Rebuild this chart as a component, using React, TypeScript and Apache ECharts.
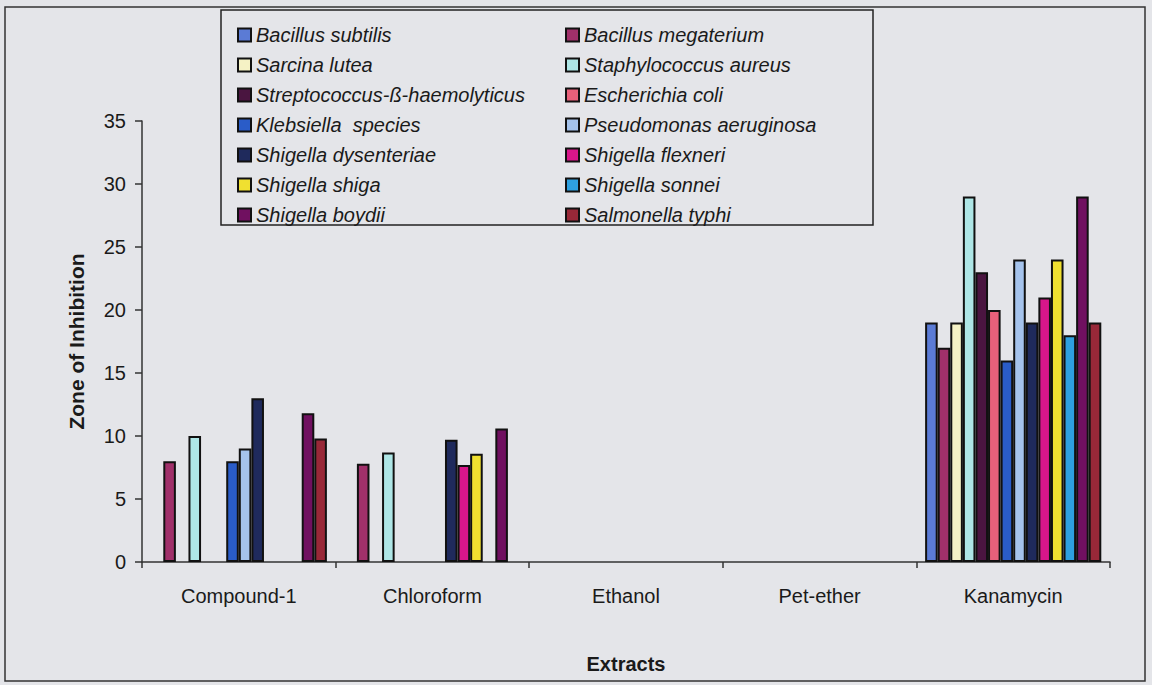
import React, { useEffect, useRef } from "react";
import * as echarts from "echarts";

const categories = ["Compound-1", "Chloroform", "Ethanol", "Pet-ether", "Kanamycin"];

const seriesNames = [
  "Bacillus subtilis",
  "Bacillus megaterium",
  "Sarcina lutea",
  "Staphylococcus aureus",
  "Streptococcus-ß-haemolyticus",
  "Escherichia coli",
  "Klebsiella  species",
  "Pseudomonas aeruginosa",
  "Shigella dysenteriae",
  "Shigella flexneri",
  "Shigella shiga",
  "Shigella sonnei",
  "Shigella boydii",
  "Salmonella typhi",
];

const bacillusSubtilis = [null, null, null, null, 19];
const bacillusMegaterium = [8, 7.8, null, null, 17];
const sarcinaLutea = [null, null, null, null, 19];
const staphylococcusAureus = [10, 8.7, null, null, 29];
const streptococcus = [null, null, null, null, 23];
const escherichiaColi = [null, null, null, null, 20];
const klebsiella = [8, null, null, null, 16];
const pseudomonas = [9, null, null, null, 24];
const shigellaDysenteriae = [13, 9.7, null, null, 19];
const shigellaFlexneri = [null, 7.7, null, null, 21];
const shigellaShiga = [null, 8.6, null, null, 24];
const shigellaSonnei = [null, null, null, null, 18];
const shigellaBoydii = [11.8, 10.6, null, null, 29];
const salmonellaTyphi = [9.8, null, null, null, 19];

const seriesValues = [
  bacillusSubtilis,
  bacillusMegaterium,
  sarcinaLutea,
  staphylococcusAureus,
  streptococcus,
  escherichiaColi,
  klebsiella,
  pseudomonas,
  shigellaDysenteriae,
  shigellaFlexneri,
  shigellaShiga,
  shigellaSonnei,
  shigellaBoydii,
  salmonellaTyphi,
];

const colors = [
  "#5b7bd5",
  "#a0306a",
  "#f5f2c5",
  "#aee6e6",
  "#4a1540",
  "#e8607a",
  "#2a5cc8",
  "#a5c3ec",
  "#1f2a5c",
  "#d8168a",
  "#f0e030",
  "#2ea0e0",
  "#701060",
  "#982838",
];

const yTicks = { min: 0, max: 35, interval: 5 };

const FONT = "'Liberation Sans', Arial, sans-serif";

export default function App() {
  const ref = useRef<HTMLDivElement>(null);

  useEffect(() => {
    if (!ref.current) return;
    const chart = echarts.init(ref.current, null, { renderer: "svg" });
    const legendText = {
      fontFamily: FONT,
      fontSize: 20,
      fontStyle: "italic",
      color: "#1a1a1a",
      lineHeight: 20,
    };
    const legendCommon = {
      orient: "vertical",
      top: 20,
      itemWidth: 13,
      itemHeight: 13,
      itemGap: 10,
      icon: "rect",
      textStyle: legendText,
    };
    chart.setOption({
      animation: false,
      backgroundColor: "#e4e5e9",
      textStyle: { fontFamily: FONT },
      grid: { left: 142, right: 42, top: 121, bottom: 123, containLabel: false },
      legend: [
        { ...legendCommon, left: 232, data: seriesNames.filter((_, i) => i % 2 === 0) },
        { ...legendCommon, left: 560, data: seriesNames.filter((_, i) => i % 2 === 1) },
      ],
      xAxis: {
        type: "category",
        data: categories,
        name: "Extracts",
        nameLocation: "middle",
        nameGap: 92,
        nameTextStyle: { fontFamily: FONT, fontSize: 20, fontWeight: "bold", color: "#1a1a1a" },
        axisLine: { lineStyle: { color: "#333", width: 1.5 } },
        axisTick: { show: true, length: 6, lineStyle: { color: "#333", width: 1.5 } },
        axisLabel: { fontFamily: FONT, fontSize: 20, color: "#1a1a1a", margin: 24 },
        splitLine: { show: false },
      },
      yAxis: {
        type: "value",
        min: yTicks.min,
        max: yTicks.max,
        interval: yTicks.interval,
        name: "Zone of Inhibition",
        nameLocation: "middle",
        nameGap: 55,
        nameTextStyle: { fontFamily: FONT, fontSize: 21, fontWeight: "bold", color: "#1a1a1a" },
        axisLine: { show: true, lineStyle: { color: "#333", width: 1.5 } },
        axisTick: { show: true, length: 7, lineStyle: { color: "#333", width: 1.5 } },
        axisLabel: { fontFamily: FONT, fontSize: 20, color: "#1a1a1a", margin: 16 },
        splitLine: { show: false },
      },
      series: seriesNames.map((name, i) => ({
        name,
        type: "bar",
        data: seriesValues[i],
        barGap: "0%",
        barCategoryGap: "9%",
        itemStyle: { color: colors[i], borderColor: "#111", borderWidth: 2 },
      })),
      graphic: [
        {
          type: "rect",
          shape: { x: 5, y: 7, width: 1140, height: 674 },
          style: { fill: "none", stroke: "#333", lineWidth: 1.5 },
          silent: true,
          z: -1,
        },
        {
          type: "rect",
          shape: { x: 221, y: 10, width: 652, height: 215 },
          style: { fill: "none", stroke: "#222", lineWidth: 1.5 },
          silent: true,
        },
      ],
    });
    return () => chart.dispose();
  }, []);

  return (
    <div
      ref={ref}
      style={{ position: "absolute", left: 0, top: 0, width: 1152, height: 685 }}
    />
  );
}
